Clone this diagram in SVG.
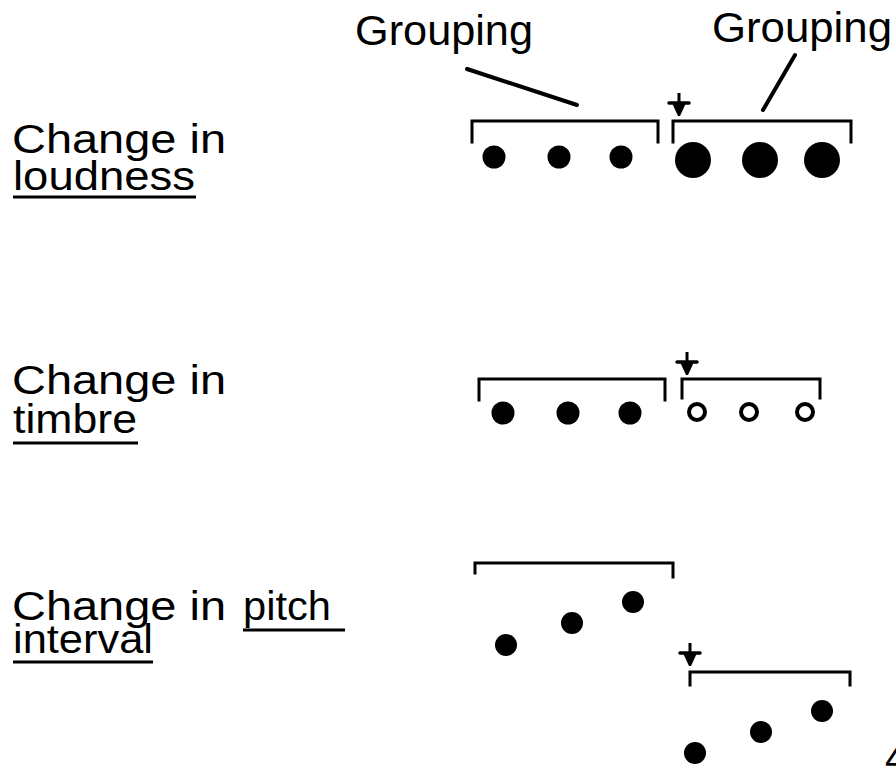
<svg xmlns="http://www.w3.org/2000/svg" width="896" height="780" viewBox="0 0 896 780">
  <style>
    .lbl { font-family: "Liberation Sans", Arial, Helvetica, sans-serif; font-size: 40px; fill: #000; }
    .hdr { font-family: "Liberation Sans", Arial, Helvetica, sans-serif; font-size: 42px; fill: #000; }
    .ul { stroke: #000; stroke-width: 3; fill: none; }
    .bracket { stroke: #000; stroke-width: 3; fill: none; stroke-linecap: square; }
    .dot { fill: #000; }
    .ring { fill: #fff; stroke: #000; stroke-width: 4; }
    .ptr { stroke: #000; stroke-width: 4; stroke-linecap: round; fill: none; }
  </style>
  <defs>
    <!-- boundary marker: a cross whose lower arm tapers to a point -->
    <g id="boundary">
      <line x1="0" y1="-12" x2="0" y2="4" stroke="#000" stroke-width="3"/>
      <line x1="-10" y1="-2" x2="10" y2="-2" stroke="#000" stroke-width="3.5" stroke-linecap="round"/>
      <path d="M-7,-2 L7,-2 L1,11 L-1,11 Z" fill="#000"/>
    </g>
  </defs>
  <rect width="896" height="780" fill="#fff"/>

  <!-- header labels -->
  <g id="label-grouping-left">
    <text class="hdr" x="355" y="45" textLength="178" lengthAdjust="spacingAndGlyphs">Grouping</text>
  </g>
  <g id="label-grouping-right">
    <text class="hdr" x="712" y="42" textLength="180" lengthAdjust="spacingAndGlyphs">Grouping</text>
  </g>

  <!-- row 1: loudness -->
  <g id="row-loudness-label">
    <text class="lbl" x="12" y="153" textLength="214" lengthAdjust="spacingAndGlyphs">Change in</text>
    <text class="lbl" x="13" y="190" textLength="182" lengthAdjust="spacingAndGlyphs">loudness</text>
    <line class="ul" x1="13" y1="197" x2="196" y2="197"/>
  </g>
  <g id="loudness-group-1">
    <path class="bracket" d="M472,142 V121 H658 V142"/>
    <circle class="dot" cx="494" cy="157" r="11.5"/>
    <circle class="dot" cx="559" cy="157" r="11.5"/>
    <circle class="dot" cx="621" cy="157" r="11.5"/>
  </g>
  <g id="loudness-group-2">
    <path class="bracket" d="M673,142 V121 H851 V142"/>
    <circle class="dot" cx="693" cy="160" r="18"/>
    <circle class="dot" cx="760" cy="160" r="18"/>
    <circle class="dot" cx="822" cy="160" r="18"/>
  </g>
  <use href="#boundary" x="679" y="105"/>

  <!-- row 2: timbre -->
  <g id="row-timbre-label">
    <text class="lbl" x="12" y="394" textLength="214" lengthAdjust="spacingAndGlyphs">Change in</text>
    <text class="lbl" x="13" y="433" textLength="124" lengthAdjust="spacingAndGlyphs">timbre</text>
    <line class="ul" x1="13" y1="443" x2="138" y2="443"/>
  </g>
  <g id="timbre-group-1">
    <path class="bracket" d="M479,400 V379 H665 V400"/>
    <circle class="dot" cx="503" cy="413" r="11.5"/>
    <circle class="dot" cx="568" cy="413" r="11.5"/>
    <circle class="dot" cx="630" cy="413" r="11.5"/>
  </g>
  <g id="timbre-group-2">
    <path class="bracket" d="M682,398 V379 H820 V398"/>
    <circle class="ring" cx="697" cy="412" r="8"/>
    <circle class="ring" cx="749" cy="412" r="8"/>
    <circle class="ring" cx="805" cy="412" r="8"/>
  </g>
  <use href="#boundary" x="687" y="364"/>

  <!-- row 3: pitch interval -->
  <g id="row-pitch-label">
    <text class="lbl" x="12" y="620" textLength="214" lengthAdjust="spacingAndGlyphs">Change in</text>
    <text class="lbl" x="243" y="620" textLength="88" lengthAdjust="spacingAndGlyphs">pitch</text>
    <line class="ul" x1="243" y1="630" x2="345" y2="630"/>
    <text class="lbl" x="13" y="653" textLength="140" lengthAdjust="spacingAndGlyphs">interval</text>
    <line class="ul" x1="13" y1="662" x2="153" y2="662"/>
  </g>
  <g id="pitch-group-1">
    <path class="bracket" d="M475,573 V563 H673 V577"/>
    <circle class="dot" cx="506" cy="645" r="11"/>
    <circle class="dot" cx="572" cy="623" r="11"/>
    <circle class="dot" cx="633" cy="602" r="11"/>
  </g>
  <g id="pitch-group-2">
    <path class="bracket" d="M690,685 V672 H850 V685"/>
    <circle class="dot" cx="695" cy="753" r="11"/>
    <circle class="dot" cx="761" cy="732" r="11"/>
    <circle class="dot" cx="822" cy="711" r="11"/>
  </g>
  <use href="#boundary" x="690" y="655"/>

  <!-- pointers from the header labels to the brackets -->
  <g id="connectors">
    <line class="ptr" x1="467" y1="69" x2="577" y2="105"/>
    <line class="ptr" x1="795" y1="55" x2="763" y2="110"/>
  </g>

  <!-- page number at the edge -->
  <text class="lbl" x="885" y="772">4</text>
</svg>
